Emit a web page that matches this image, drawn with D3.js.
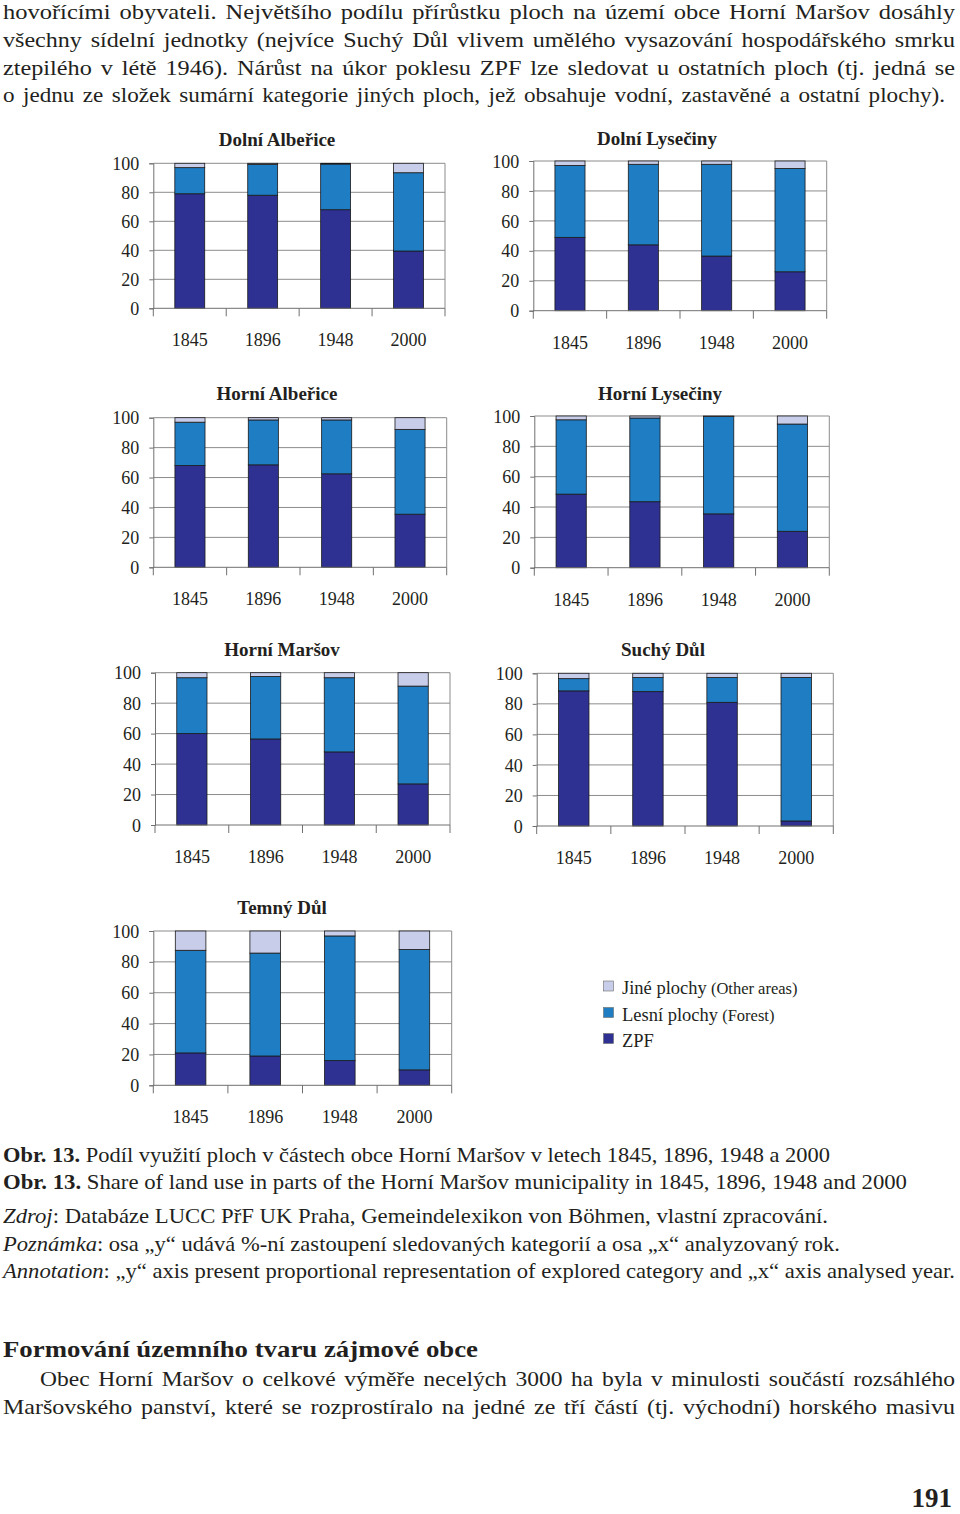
<!DOCTYPE html>
<html><head><meta charset="utf-8">
<script src="https://cdn.jsdelivr.net/npm/d3@7"></script>
<style>
body{margin:0;background:#fff}
svg{display:block}
text{font-family:"Liberation Serif","Times New Roman",serif;fill:#231f20}
</style>
</head><body>
<svg id="c" width="960" height="1514"></svg>
<script>
// ---------- data ----------
const years = ["1845", "1896", "1948", "2000"];
const regions = ["Dolní Albeřice", "Dolní Lysečiny", "Horní Albeřice", "Horní Lysečiny", "Horní Maršov", "Suchý Důl", "Temný Důl"];
const zpfValues = [
  [79, 78, 68, 39.5],
  [49, 44, 36.5, 26],
  [68, 68.5, 62.5, 35.5],
  [48.5, 43.5, 35.5, 24],
  [60, 56.5, 48, 27],
  [88.5, 88, 81, 3.3],
  [21, 19, 16, 10]
];
const forestValues = [
  [18, 21.3, 31.5, 54],
  [48, 53.8, 61.3, 69],
  [29, 30, 36, 56.7],
  [49, 55.2, 64.2, 70.7],
  [36.7, 41, 48.7, 64.2],
  [8, 9.2, 16.2, 94],
  [66.5, 66.7, 80.8, 78]
];
const otherValues = [
  [3, 0.7, 0.5, 6.5],
  [3, 2.2, 2.2, 5],
  [3, 1.5, 1.5, 7.8],
  [2.5, 1.3, 0.3, 5.3],
  [3.3, 2.5, 3.3, 8.8],
  [3.5, 2.8, 2.8, 2.7],
  [12.5, 14.3, 3.2, 12]
];
const yTicks = [0, 20, 40, 60, 80, 100];
const seriesKeys = ["other", "forest", "zpf"];
const legendNames = ["Jiné plochy", "Lesní plochy", "ZPF"];
const legendNotes = ["(Other areas)", "(Forest)", ""];

const bodyLines = [
  "hovořícími obyvateli. Největšího podílu přírůstku ploch na území obce Horní Maršov dosáhly",
  "všechny sídelní jednotky (nejvíce Suchý Důl vlivem umělého vysazování hospodářského smrku",
  "ztepilého v létě 1946). Nárůst na úkor poklesu ZPF lze sledovat u ostatních ploch (tj. jedná se",
  "o jednu ze složek sumární kategorie jiných ploch, jež obsahuje vodní, zastavěné a ostatní plochy)."
];
const captionLines = [
  ["Obr. 13.", " Podíl využití ploch v částech obce Horní Maršov v letech 1845, 1896, 1948 a 2000"],
  ["Obr. 13.", " Share of land use in parts of the Horní Maršov municipality in 1845, 1896, 1948 and 2000"],
  ["Zdroj", ": Databáze LUCC PřF UK Praha, Gemeindelexikon von Böhmen, vlastní zpracování."],
  ["Poznámka", ": osa „y“ udává %-ní zastoupení sledovaných kategorií a osa „x“ analyzovaný rok."],
  ["Annotation", ": „y“ axis present proportional representation of explored category and „x“ axis analysed year."]
];
const headingText = "Formování územního tvaru zájmové obce";
const paraLines = [
  "Obec Horní Maršov o celkové výměře necelých 3000 ha byla v minulosti součástí rozsáhlého",
  "Maršovského panství, které se rozprostíralo na jedné ze tří částí (tj. východní) horského masivu"
];
const pageNumber = "191";

// ---------- style / layout ----------
const colors = { zpf: "#2e3192", forest: "#1f7dc4", other: "#c8cdea" };
const panels = [
  { l: 153.3, r: 445,   t: 163.3, b: 308.3, tx: 277, ty: 145.5 },
  { l: 533.3, r: 826.7, t: 161,   b: 310.7, tx: 657, ty: 145 },
  { l: 153.3, r: 446.7, t: 417.7, b: 567.3, tx: 277, ty: 400 },
  { l: 534.3, r: 829.3, t: 416,   b: 567.7, tx: 660, ty: 400 },
  { l: 155,   r: 450,   t: 672.7, b: 825,   tx: 282, ty: 655.5 },
  { l: 536.7, r: 833.3, t: 673.3, b: 826,   tx: 663, ty: 655.5 },
  { l: 153.3, r: 451.7, t: 931,   b: 1085.3, tx: 282, ty: 913.5 }
];

const svg = d3.select("#c");
svg.append("rect").attr("width", 960).attr("height", 1514).attr("fill", "#fff");

// justify a line: modest word spacing, remainder by glyph scaling
function justify(t, x0, x1) {
  const nat = t.node().getComputedTextLength();
  const s = t.text();
  const spaces = (s.match(/ /g) || []).length;
  const extra = (x1 - x0) - nat;
  if (extra > 0 && spaces > 0) {
    const ws = Math.min(2.5, extra / spaces);
    t.attr("word-spacing", ws);
  }
  t.attr("textLength", x1 - x0).attr("lengthAdjust", "spacingAndGlyphs");
}

// ---------- body text ----------
const bodyBase = [19, 47, 74.5, 102];
const bodyEnds = [955, 955, 955, 945];
bodyLines.forEach((s, i) => {
  const t = svg.append("text").attr("x", 3).attr("y", bodyBase[i]).attr("font-size", 21.5).text(s);
  justify(t, 3, bodyEnds[i]);
});

// ---------- charts ----------
panels.forEach((p, pi) => {
  const g = svg.append("g");
  const x = d3.scaleBand().domain(years).range([p.l, p.r]).paddingInner(0.59).paddingOuter(0.295);
  const y = d3.scaleLinear().domain([0, 100]).range([p.b, p.t]);

  g.append("g").selectAll("line").data(yTicks.filter(d => d > 0)).join("line")
    .attr("x1", p.l).attr("x2", p.r).attr("y1", d => y(d)).attr("y2", d => y(d))
    .attr("stroke", "#8c8c8c").attr("stroke-width", 1);
  g.append("line").attr("x1", p.r).attr("x2", p.r).attr("y1", p.t).attr("y2", p.b)
    .attr("stroke", "#8c8c8c").attr("stroke-width", 1);

  const rows = years.map((yr, i) => ({
    year: yr, zpf: zpfValues[pi][i], forest: forestValues[pi][i], other: otherValues[pi][i]
  }));
  const stack = d3.stack().keys(["zpf", "forest", "other"])(rows);
  g.append("g").selectAll("g").data(stack).join("g")
    .attr("fill", d => colors[d.key])
    .selectAll("rect").data(d => d).join("rect")
    .attr("x", d => x(d.data.year)).attr("width", x.bandwidth())
    .attr("y", d => y(d[1])).attr("height", d => y(d[0]) - y(d[1]))
    .attr("stroke", "#1a1a1a").attr("stroke-width", 0.8);

  const ya = g.append("g").attr("transform", `translate(${p.l},0)`)
    .call(d3.axisLeft(y).tickValues(yTicks).tickSize(4).tickPadding(10).tickFormat(d3.format("d")));
  ya.select(".domain").attr("stroke", "#707070");
  ya.selectAll(".tick line").attr("stroke", "#707070");
  ya.selectAll("text").attr("font-size", 18).attr("font-family", "'Liberation Serif','Times New Roman',serif")
    .attr("fill", "#231f20").attr("dy", "0.34em");

  const step = x.step();
  const xa = g.append("g");
  xa.append("line").attr("x1", p.l).attr("x2", p.r).attr("y1", p.b).attr("y2", p.b)
    .attr("stroke", "#707070");
  xa.selectAll("line.tk").data(d3.range(years.length + 1)).join("line").attr("class", "tk")
    .attr("x1", i => p.l + i * step).attr("x2", i => p.l + i * step)
    .attr("y1", p.b).attr("y2", p.b + 8).attr("stroke", "#707070");
  xa.selectAll("text").data(years).join("text")
    .attr("x", d => x(d) + x.bandwidth() / 2).attr("y", p.b + 38)
    .attr("text-anchor", "middle").attr("font-size", 18).text(d => d);

  g.append("text").attr("x", p.tx).attr("y", p.ty).attr("text-anchor", "middle")
    .attr("font-size", 19).attr("font-weight", "bold").text(regions[pi]);
});

// ---------- legend ----------
const legendBase = [994, 1020.5, 1046.5];
const lg = svg.append("g");
legendNames.forEach((name, i) => {
  const key = seriesKeys[i];
  lg.append("rect").attr("x", 603.5).attr("y", legendBase[i] - 13).attr("width", 10).attr("height", 10)
    .attr("fill", colors[key]).attr("stroke", "#6b6b6b").attr("stroke-width", 0.6);
  const t = lg.append("text").attr("x", 622).attr("y", legendBase[i]).attr("font-size", 18.5);
  t.append("tspan").text(name);
  if (legendNotes[i]) t.append("tspan").attr("font-size", 16.5).text(" " + legendNotes[i]);
});

// ---------- caption ----------
const capBase = [1162, 1189, 1223, 1251, 1278];
const capEnds = [830, 907, 828, 840, 955];
captionLines.forEach((c, i) => {
  const t = svg.append("text").attr("x", 3).attr("y", capBase[i]).attr("font-size", 21)
    .attr("textLength", capEnds[i] - 3).attr("lengthAdjust", "spacingAndGlyphs");
  if (i < 2) t.append("tspan").attr("font-weight", "bold").text(c[0]);
  else t.append("tspan").attr("font-style", "italic").text(c[0]);
  t.append("tspan").text(c[1]);
});

// ---------- heading + paragraph ----------
svg.append("text").attr("x", 3).attr("y", 1357).attr("font-size", 23).attr("font-weight", "bold")
  .attr("textLength", 475).attr("lengthAdjust", "spacingAndGlyphs").text(headingText);
const paraStart = [40, 3];
const paraBase = [1385.5, 1413.5];
paraLines.forEach((s, i) => {
  const t = svg.append("text").attr("x", paraStart[i]).attr("y", paraBase[i]).attr("font-size", 21.5).text(s);
  justify(t, paraStart[i], 955);
});

// ---------- page number ----------
svg.append("text").attr("x", 952).attr("y", 1507).attr("text-anchor", "end")
  .attr("font-size", 27).attr("font-weight", "bold").text(pageNumber);
</script>
</body></html>
